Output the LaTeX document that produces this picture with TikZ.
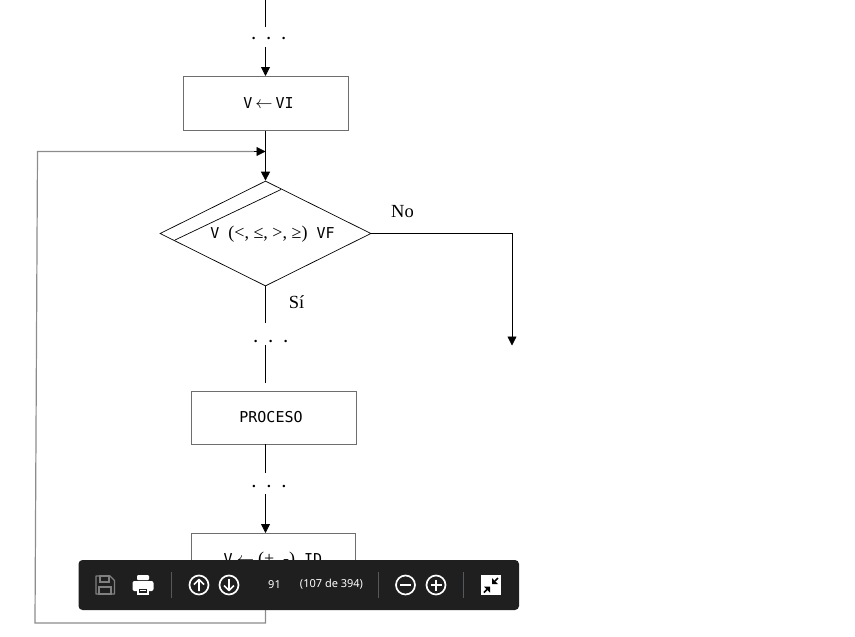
\documentclass[tikz,border=0pt]{standalone}
\usepackage{fontspec}
\setmainfont{Liberation Serif}
\setmonofont{DejaVu Sans Mono}
\setsansfont{Noto Sans}
\usepackage{tikz}
\usetikzlibrary{arrows.meta,shapes.geometric}

\definecolor{barcolor}{HTML}{1F1F1F}
\definecolor{barline}{HTML}{55595A}
\definecolor{boxline}{HTML}{6E6E6E}
\definecolor{loopline}{HTML}{8C8C8C}

% signs of the boxes are a size larger than their letters
\newcommand{\signs}[1]{{\rmfamily\fontsize{18}{20}\selectfont #1}}
\newcommand{\getsarrow}{\scalebox{1.2}{$\leftarrow$}}

\tikzset{
	flow/.style = {draw=black, line width=0.8pt},
	arrow/.style = {flow, -{Triangle[length=9pt,width=9pt]}},
	process/.style = {draw=boxline, line width=1pt, minimum width=#1, minimum height=54pt, inner sep=0pt, font=\ttfamily\fontsize{15}{16}\selectfont},
	dots/.style = {font=\fontsize{15}{16}\selectfont\bfseries, inner sep=0pt},
	answer/.style = {font=\fontsize{18.5}{20}\selectfont, inner sep=0pt},
	baricon/.style = {draw=white, line width=1.7pt},
	barsep/.style = {draw=barline, line width=0.8pt},
	bartext/.style = {text=white, inner sep=0pt, font=\sffamily\fontsize{11}{13}\selectfont}
}

\begin{document}
\begin{tikzpicture}[x=1pt, y=-1pt]
	\useasboundingbox (0,0) rectangle (855,637);

	% boxes
	\node[process=165pt] (init) at (265.5,103.5) {\hspace*{6pt}V\hspace{3pt}\getsarrow\hspace{3pt}VI};
	\node[process=165pt, minimum height=53pt] (work) at (273.5,417.5) {\hspace*{-5pt}PROCESO};
	\node[process=164pt] (step) at (273,560) {V\hspace{4pt}\getsarrow\hspace{4pt}\signs{(+, -)} ID};

	% decision
	\node[draw=black, line width=0.7pt, diamond, aspect=2, minimum width=211pt, minimum height=105pt, inner sep=0pt] (test) at (265.5,233.5) {};
	\node[inner sep=0pt, font=\ttfamily\fontsize{15}{16}\selectfont] (testtext) at (272.5,234.5) {V \signs{(<, ≤, >, ≥)} VF};
	\coordinate (testa) at (175,240);
	\coordinate (testb) at (281,189.5);
	\draw[flow, line width=0.7pt] (testa) -- (testb);

	% dots
	\node[dots] (dotsa) at (268.7,38) {.\hspace{11.25pt}.\hspace{11.25pt}.};
	\node[dots] (dotsb) at (270.7,341.7) {.\hspace{11.25pt}.\hspace{11.25pt}.};
	\node[dots] (dotsc) at (269,486.7) {.\hspace{11.25pt}.\hspace{11.25pt}.};

	% labels
	\node[answer] (no) at (402.5,212) {No};
	\node[answer] (si) at (296.5,302) {Sí};

	% free ends of the lines
	\coordinate (topa) at (265.5,0);
	\coordinate (topb) at (265.5,27);
	\coordinate (topc) at (265.5,47);
	\coordinate (joint) at (265.5,151.5);
	\coordinate (sia) at (265.5,323);
	\coordinate (sib) at (265.5,345);
	\coordinate (sic) at (265.5,383);
	\coordinate (workb) at (265.5,444);
	\coordinate (workc) at (265.5,473);
	\coordinate (workd) at (265.5,494);
	\coordinate (stepb) at (265.5,533);
	\coordinate (nocorner) at (512,233.5);
	\coordinate (noend) at (512,345.5);
	\coordinate (backa) at (265.5,610);
	\coordinate (backb) at (265.5,623);
	\coordinate (backc) at (35,623);
	\coordinate (backd) at (37.5,151.5);
	\coordinate (backe) at (254,151.5);

	% connectors
	\draw[flow] (topa) -- (topb);
	\draw[arrow] (topc) -- (init.north);
	\draw[arrow] (init.south) -- (test.north);
	\draw[flow] (test.south) -- (sia);
	\draw[flow] (sib) -- (sic);
	\draw[flow] (workb) -- (workc);
	\draw[arrow] (workd) -- (stepb);
	\draw[arrow] (test.east) -- (nocorner) -- (noend);
	\draw[draw=loopline, line width=1.2pt] (backa) -- (backb) -- (backc) -- (backd) -- (backe);
	\draw[arrow] (backe) -- (joint);

	% toolbar
	\fill[barcolor, rounded corners=4pt] (78.5,560) rectangle (519,610);
	\foreach \x in {171.5,378.5,463.5}
		\draw[barsep] (\x,572) -- (\x,598);

	% save
	\draw[draw=black!50!white, line width=1.4pt, line join=round] (96,576) -- (110,576) -- (114.5,580.5) -- (114.5,594) -- (96,594) -- cycle;
	\draw[draw=black!50!white, line width=1.2pt] (100,576) rectangle (109,582) (99,594) rectangle (111,587);
	% print
	\fill[white, rounded corners=1pt] (137,575) rectangle (149,580);
	\fill[white, rounded corners=2pt] (132.5,581) rectangle (153.5,591);
	\fill[white] (137,586) rectangle (149,595);
	\fill[barcolor] (139,588.5) rectangle (147,592.5);
	\draw[white, line width=0.6pt] (140,590.5) -- (146,590.5);

	% page up and down
	\draw[baricon] (199,585) circle[radius=9.5pt];
	\draw[baricon, line join=round] (199,591) -- (199,579.5) (194,584.5) -- (199,579.5) -- (204,584.5);
	\draw[baricon] (229,585) circle[radius=9.5pt];
	\draw[baricon, line join=round] (229,579) -- (229,590.5) (224,585.5) -- (229,590.5) -- (234,585.5);

	% page text
	\node[bartext] (page) at (274.5,584.5) {91};
	\node[bartext] (pages) at (331.5,584.5) {(107 de 394)};

	% zoom out and in
	\draw[baricon] (405.5,585) circle[radius=9.5pt];
	\draw[baricon] (400,585) -- (411,585);
	\draw[baricon] (436,585) circle[radius=9.5pt];
	\draw[baricon] (430.5,585) -- (441.5,585) (436,579.5) -- (436,590.5);

	% fit
	\fill[white] (481,575) rectangle (501,595);
	\fill[black] (490,586.5) -- (490,592.5) -- (484,586.5) -- cycle;
	\fill[black] (492,584) -- (492,578) -- (498,584) -- cycle;
	\draw[black, line width=1.6pt] (487,589.5) -- (484,592.5) (495,581) -- (498,578);
\end{tikzpicture}
\end{document}
